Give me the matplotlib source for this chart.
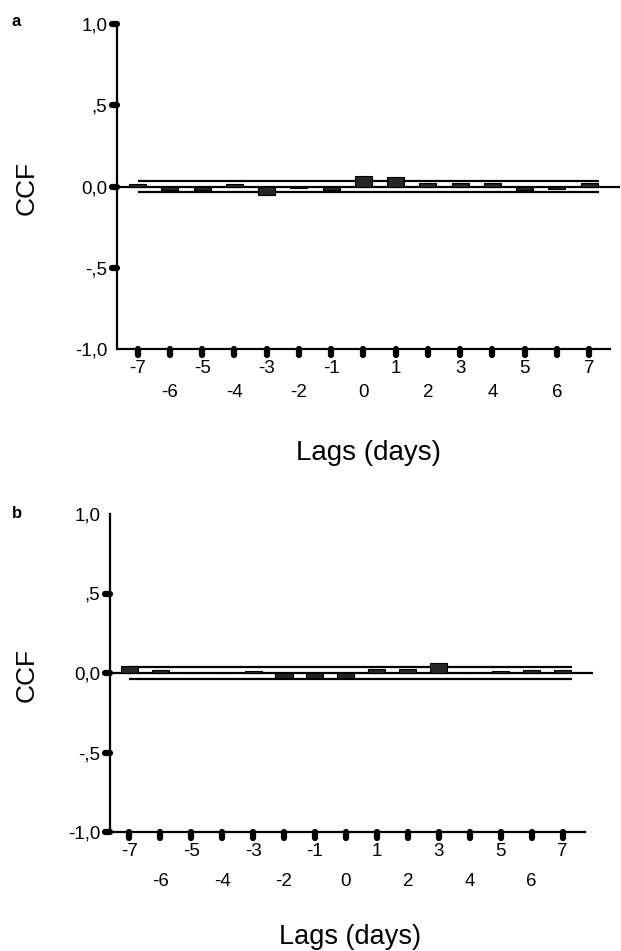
import numpy as np
import matplotlib
matplotlib.use('Agg')
import matplotlib.pyplot as plt
from matplotlib.markers import MarkerStyle, TICKDOWN, TICKLEFT

plt.rcParams['font.family'] = ['Liberation Sans', 'DejaVu Sans']

lags = np.arange(-7, 8)
ccf_a = [0.015, -0.02, -0.02, 0.015, -0.05, -0.01, -0.02, 0.065, 0.06, 0.02, 0.02, 0.02, -0.02, -0.015, 0.02]
ccf_b = [0.045, 0.02, 0.0, 0.0, 0.01, -0.03, -0.03, -0.03, 0.025, 0.025, 0.06, 0.0, 0.01, 0.02, 0.02]
conf_a = 0.033
conf_b = 0.04
yticks = [-1.0, -0.5, 0.0, 0.5, 1.0]
ylabels = ['-1,0', '-,5', '0,0', ',5', '1,0']
odd_lags = [-7, -5, -3, -1, 1, 3, 5, 7]
even_lags = [-6, -4, -2, 0, 2, 4, 6]

fig = plt.figure(figsize=(6.21, 9.51), dpi=100)
ax1 = fig.add_axes([117/621, 1-349/951, 503/621, 325/951])
ax2 = fig.add_axes([110/621, 1-832/951, 483/621, 318/951])


def draw_panel(ax, vals, conf, no_dot, xlim, spine_end, width, pad1, pad2):
    ax.bar(lags, vals, width=width, color='#262626', edgecolor='black', linewidth=0.8, zorder=3)
    ax.axhline(0, color='black', lw=1.6, zorder=2)
    ax.hlines([conf, -conf], -7, 7.3, color='black', lw=1.6, zorder=2)
    ax.set_xlim(*xlim)
    ax.set_ylim(-1.0, 1.0)
    for s in ['top', 'right']:
        ax.spines[s].set_visible(False)
    ax.spines['left'].set_linewidth(1.6)
    ax.spines['bottom'].set_linewidth(1.6)
    ax.spines['bottom'].set_bounds(xlim[0], spine_end)
    ax.set_yticks(yticks)
    ax.set_yticklabels(ylabels)
    ax.set_xticks(odd_lags)
    ax.set_xticklabels([str(v) for v in odd_lags])
    ax.set_xticks(even_lags, minor=True)
    ax.set_xticklabels([str(v) for v in even_lags], minor=True)
    ax.tick_params(axis='y', direction='out', length=3.5, width=4.5, pad=3.5, labelsize=13.5)
    ax.tick_params(axis='x', which='major', direction='out', length=4.5, width=4.5, pad=pad1, labelsize=13.5)
    ax.tick_params(axis='x', which='minor', direction='out', length=4.5, width=4.5, pad=pad2, labelsize=13.5)
    for t in ax.xaxis.get_major_ticks() + ax.xaxis.get_minor_ticks():
        t.tick1line.set_marker(MarkerStyle(TICKDOWN, capstyle='round'))
    for i, t in enumerate(ax.yaxis.get_major_ticks()):
        t.tick1line.set_marker(MarkerStyle(TICKLEFT, capstyle='round'))
        if yticks[i] == no_dot:
            t.tick1line.set_visible(False)


draw_panel(ax1, ccf_a, conf_a, -1.0, (-7.64, 7.96), 7.65, 0.53, 3.5, 20.5)
draw_panel(ax2, ccf_b, conf_b, 1.0, (-7.62, 7.98), 7.72, 0.55, 3.5, 25)

fig.text(27/621, 1-188/951, 'CCF', rotation=90, ha='center', va='center', fontsize=19)
fig.text(27/621, 1-675/951, 'CCF', rotation=90, ha='center', va='center', fontsize=19)
fig.text(369/621, 1-453/951, 'Lags (days)', ha='center', va='center', fontsize=20)
fig.text(350/621, 1-937/951, 'Lags (days)', ha='center', va='center', fontsize=19.5)
fig.text(12/621, 1-22/951, 'a', ha='left', va='center', fontsize=12, fontweight='bold')
fig.text(12/621, 1-514/951, 'b', ha='left', va='center', fontsize=12, fontweight='bold')

fig.savefig('out.png', dpi=100)
